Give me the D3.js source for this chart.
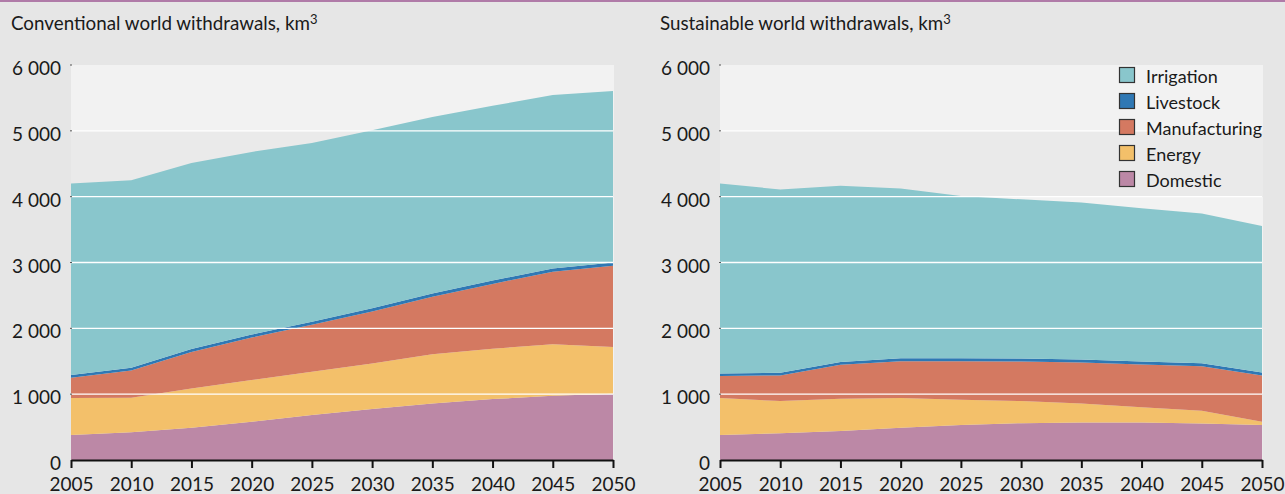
<!DOCTYPE html>
<html><head><meta charset="utf-8">
<script src="https://cdn.jsdelivr.net/npm/d3@7"></script>
<style>
html,body{margin:0;padding:0;background:#e6e6e6;}
svg{display:block;font-family:Lato,"Noto Sans",sans-serif;}
</style></head>
<body><svg id="c" width="1285" height="494"></svg>
<script>
const years = [2005,2010,2015,2020,2025,2030,2035,2040,2045,2050];
const seriesNames = ["Domestic","Energy","Manufacturing","Livestock","Irrigation"];
const legendOrder = ["Irrigation","Livestock","Manufacturing","Energy","Domestic"];
const yTicks = [0,1000,2000,3000,4000,5000,6000];
const yTickLabels = ["0","1 000","2 000","3 000","4 000","5 000","6 000"];

// Conventional scenario, km3
const convDomestic      = [380,420,490,580,685,775,860,925,975,1005];
const convEnergy        = [560,525,595,635,655,690,745,765,785,710];
const convManufacturing = [310,415,555,645,715,790,875,985,1100,1235];
const convLivestock     = [40,40,45,45,45,50,50,50,50,50];
const convIrrigation    = [2910,2850,2825,2775,2715,2705,2680,2655,2635,2605];

// Sustainable scenario, km3
const sustDomestic      = [380,405,440,490,530,560,570,570,555,530];
const sustEnergy        = [560,490,490,450,385,335,290,230,193,50];
const sustManufacturing = [335,390,515,560,585,600,620,650,677,705];
const sustLivestock     = [40,40,45,45,45,45,45,45,45,45];
const sustIrrigation    = [2885,2785,2675,2580,2465,2420,2385,2330,2275,2225];

const colors = {Irrigation:"#89c6cc",Livestock:"#2f78b4",Manufacturing:"#d47961",Energy:"#f3c06a",Domestic:"#bc88a6"};

const svg = d3.select("#c");
svg.append("rect").attr("x",0).attr("y",0).attr("width",1285).attr("height",494).attr("fill","#e6e6e6");
svg.append("rect").attr("x",0).attr("y",0).attr("width",1285).attr("height",2).attr("fill","#b07ba8");

function table(dom,en,man,liv,irr){
  return years.map((y,i)=>({year:y,Domestic:dom[i],Energy:en[i],Manufacturing:man[i],Livestock:liv[i],Irrigation:irr[i]}));
}

function panel(x0,x1,titleText,titleX,data){
  const g = svg.append("g");
  const x = d3.scaleLinear().domain([2005,2050]).range([x0,x1]);
  const y = d3.scaleLinear().domain([0,6000]).range([460,65]);
  // bands
  for(let i=0;i<6;i++){
    g.append("rect").attr("x",x0).attr("width",x1-x0+1)
      .attr("y",y((i+1)*1000)).attr("height",y(i*1000)-y((i+1)*1000))
      .attr("fill", i%2===1 ? "#f2f2f2" : "#eaeaea");
  }
  const stack = d3.stack().keys(seriesNames)(data);
  const area = d3.area().x(d=>x(d.data.year)).y0(d=>y(d[0])).y1(d=>y(d[1]));
  g.selectAll("path.a").data(stack).join("path").attr("class","a")
    .attr("d",area).attr("fill",d=>colors[d.key]);
  // gridlines
  g.selectAll("line.g").data(yTicks.filter(t=>t>0&&t<6000)).join("line").attr("class","g")
    .attr("x1",x0).attr("x2",x1).attr("y1",d=>y(d)).attr("y2",d=>y(d))
    .attr("stroke","#ffffff").attr("stroke-width",1.3);
  // y labels
  g.selectAll("text.yl").data(yTicks).join("text").attr("class","yl")
    .attr("x",x0-10).attr("y",d=>y(d)+10).attr("text-anchor","end")
    .attr("font-size",19).attr("fill","#1a1a1a").text((d,i)=>yTickLabels[i]);
  g.selectAll("line.yt").data(yTicks.filter(t=>t>0)).join("line").attr("class","yt")
    .attr("x1",x0-1).attr("x2",x0+1).attr("y1",d=>y(d)).attr("y2",d=>y(d))
    .attr("stroke","#555").attr("stroke-width",1);
  // x axis
  const ax = d3.axisBottom(x).tickValues(years).tickFormat(d3.format("d")).tickSize(8).tickSizeOuter(0);
  const axg = g.append("g").attr("transform","translate(0,460)").call(ax);
  axg.select(".domain").attr("stroke","#111").attr("stroke-width",2);
  axg.selectAll(".tick line").attr("stroke","#111").attr("stroke-width",2);
  axg.selectAll(".tick text").attr("font-size",19).attr("fill","#1a1a1a").attr("dy",0).attr("y",31)
    .attr("font-family","Lato,'Noto Sans',sans-serif");
  // title
  const t = g.append("text").attr("x",titleX).attr("y",30).attr("font-size",18.8).attr("fill","#1a1a1a");
  t.append("tspan").text(titleText);
  t.append("tspan").attr("font-size",13).attr("dy",-6).text("3");
  return {x,y};
}

panel(71,613,"Conventional world withdrawals, km",11,table(convDomestic,convEnergy,convManufacturing,convLivestock,convIrrigation));
panel(720,1262,"Sustainable world withdrawals, km",660,table(sustDomestic,sustEnergy,sustManufacturing,sustLivestock,sustIrrigation));

// legend
const lg = svg.append("g");
legendOrder.forEach((k,i)=>{
  lg.append("rect").attr("x",1119.5).attr("y",67.5+i*26).attr("width",15).attr("height",15)
    .attr("fill",colors[k]).attr("stroke","#333").attr("stroke-width",1.2);
  lg.append("text").attr("x",1146).attr("y",83+i*26).attr("font-size",18).attr("fill","#1a1a1a").text(k);
});
</script></body></html>
